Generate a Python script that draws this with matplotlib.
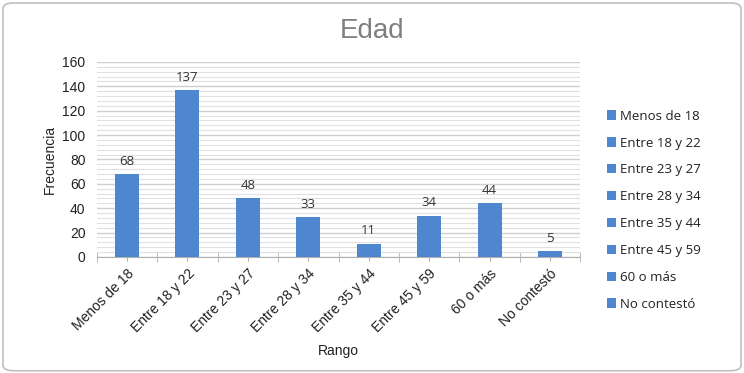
import matplotlib
matplotlib.use("Agg")
import matplotlib.pyplot as plt
from matplotlib.patches import FancyBboxPatch
from matplotlib.ticker import MultipleLocator

categories = ["Menos de 18", "Entre 18 y 22", "Entre 23 y 27", "Entre 28 y 34",
              "Entre 35 y 44", "Entre 45 y 59", "60 o más", "No contestó"]
values = [68, 137, 48, 33, 11, 34, 44, 5]

color = "#4F86D0"
fig = plt.figure(figsize=(7.44, 3.73), dpi=100)
fig.patch.set_facecolor("white")
border = FancyBboxPatch((0.004, 0.006), 0.992, 0.986, boxstyle="round,pad=0,rounding_size=0.015",
                        transform=fig.transFigure, facecolor="none", edgecolor="#BFBFBF", lw=1.2,
                        zorder=-5)
fig.patches.append(border)

ax = fig.add_axes([0.130, 0.311, 0.650, 0.523])
ax.set_facecolor("none")
x = range(len(categories))
for i, (c, v) in enumerate(zip(categories, values)):
    ax.bar(i, v, width=0.4, color=color, label=c, zorder=3)
    ax.text(i, v + 5, str(v), ha="center", va="bottom", fontsize=9.5,
            family="Open Sans", color="#333333")

ax.set_xlim(-0.5, len(categories) - 0.5)
ax.set_ylim(0, 160)
ax.yaxis.set_major_locator(MultipleLocator(20))
ax.yaxis.set_minor_locator(MultipleLocator(4))
ax.grid(axis="y", which="major", color="#CFCFCF", lw=1.0, zorder=0)
ax.grid(axis="y", which="minor", color="#E0E0E0", lw=0.8, zorder=0)
for s in ["top", "right", "left"]:
    ax.spines[s].set_visible(False)
ax.spines["bottom"].set_color("#B0B0B0")
ax.tick_params(axis="y", length=0, labelsize=10, labelcolor="#222222", pad=8)
ax.tick_params(axis="y", which="minor", length=0)
ax.set_xticks([i - 0.5 for i in range(len(categories) + 1)], minor=True)
ax.tick_params(axis="x", which="minor", length=7, color="#B0B0B0", direction="inout")
ax.set_xticks(list(x))
ax.set_xticklabels(categories, rotation=45, ha="right", rotation_mode="anchor",
                   fontsize=10, family="Liberation Sans", color="#222222")
ax.tick_params(axis="x", which="major", length=3, color="#B0B0B0", pad=4)
for lab in ax.get_yticklabels():
    lab.set_family("Liberation Sans")

ax.set_ylabel("Frecuencia", fontsize=10, family="Liberation Sans", color="#222222", labelpad=4)
ax.set_xlabel("Rango", fontsize=10, family="Liberation Sans", color="#222222", labelpad=6)

fig.text(0.50, 0.918, "Edad", ha="center", va="center", fontsize=20,
         family="Liberation Sans", color="#7F7F7F")

leg = ax.legend(loc="center left", bbox_to_anchor=(1.03, 0.24), frameon=False,
                handlelength=0.7, handleheight=0.7, handletextpad=0.3,
                labelspacing=1.05, prop={"family": "Open Sans", "size": 9.5})
for t in leg.get_texts():
    t.set_color("#222222")

fig.savefig("out.png", dpi=100)
